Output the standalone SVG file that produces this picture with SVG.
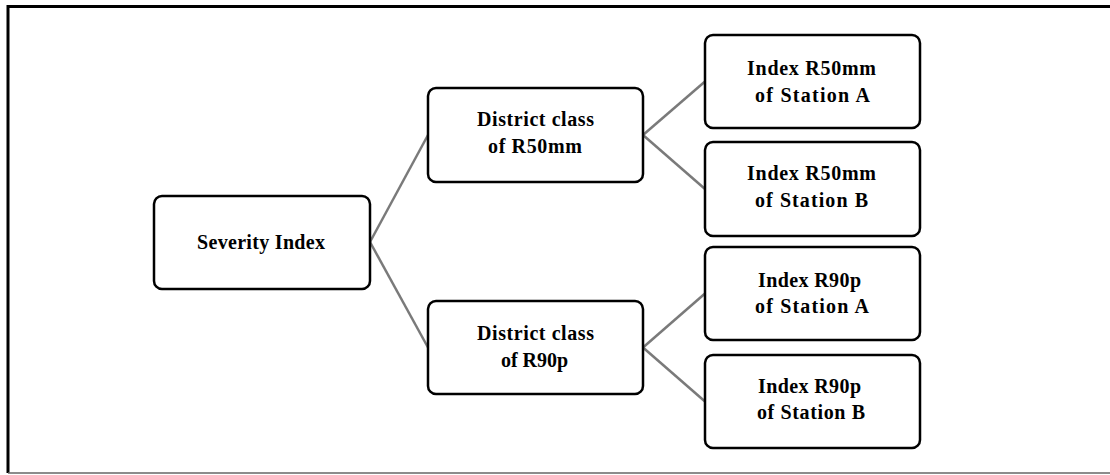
<svg xmlns="http://www.w3.org/2000/svg" width="1110" height="475" viewBox="0 0 1110 475">
<style>
.box{fill:#fff;stroke:#000;stroke-width:2.5}
.lbl{font-family:"Liberation Serif","Times New Roman",serif;font-weight:bold;font-size:20px;fill:#000}
.conn line{stroke:#7a7a7a;stroke-width:2.5}
</style>
<rect width="1110" height="475" fill="#fff"/>
<g id="frame">
<path d="M1110,6.5 H8 V473" fill="none" stroke="#000" stroke-width="3"/>
<line x1="8" y1="473" x2="1110" y2="473" stroke="#666" stroke-width="1.5"/>
</g>
<g id="connectors" class="conn">
<line x1="370" y1="242" x2="428" y2="135"/>
<line x1="370" y1="242" x2="428" y2="347.5"/>
<line x1="643" y1="135" x2="705" y2="81.5"/>
<line x1="643" y1="135" x2="705" y2="189"/>
<line x1="643" y1="347.5" x2="705" y2="293.5"/>
<line x1="643" y1="347.5" x2="705" y2="401.5"/>
</g>
<g id="severity">
<rect class="box" x="154" y="196" width="216" height="93" rx="8"/>
<text class="lbl" x="261" y="249" text-anchor="middle" textLength="128" lengthAdjust="spacing">Severity Index</text>
</g>
<g id="district-r50mm">
<rect class="box" x="428" y="88" width="215" height="94" rx="8"/>
<text class="lbl" x="535.5" y="126" text-anchor="middle" textLength="117" lengthAdjust="spacing">District class</text>
<text class="lbl" x="535" y="153" text-anchor="middle" textLength="94" lengthAdjust="spacing">of R50mm</text>
</g>
<g id="district-r90p">
<rect class="box" x="428" y="301" width="215" height="93" rx="8"/>
<text class="lbl" x="535.5" y="340" text-anchor="middle" textLength="117" lengthAdjust="spacing">District class</text>
<text class="lbl" x="534.5" y="367" text-anchor="middle" textLength="67" lengthAdjust="spacing">of R90p</text>
</g>
<g id="r50mm-a">
<rect class="box" x="705" y="35" width="215" height="93" rx="8"/>
<text class="lbl" x="811.5" y="75" text-anchor="middle" textLength="129" lengthAdjust="spacing">Index R50mm</text>
<text class="lbl" x="812.5" y="102" text-anchor="middle" textLength="115" lengthAdjust="spacing">of  Station A</text>
</g>
<g id="r50mm-b">
<rect class="box" x="705" y="142" width="215" height="94" rx="8"/>
<text class="lbl" x="811.5" y="180" text-anchor="middle" textLength="129" lengthAdjust="spacing">Index R50mm</text>
<text class="lbl" x="811.5" y="207" text-anchor="middle" textLength="113" lengthAdjust="spacing">of  Station B</text>
</g>
<g id="r90p-a">
<rect class="box" x="705" y="247" width="215" height="93" rx="8"/>
<text class="lbl" x="809.5" y="287" text-anchor="middle" textLength="103" lengthAdjust="spacing">Index R90p</text>
<text class="lbl" x="812" y="313" text-anchor="middle" textLength="114" lengthAdjust="spacing">of Station A</text>
</g>
<g id="r90p-b">
<rect class="box" x="705" y="355" width="215" height="93" rx="8"/>
<text class="lbl" x="809.5" y="393" text-anchor="middle" textLength="103" lengthAdjust="spacing">Index R90p</text>
<text class="lbl" x="811" y="419" text-anchor="middle" textLength="108" lengthAdjust="spacing">of Station B</text>
</g>
</svg>
